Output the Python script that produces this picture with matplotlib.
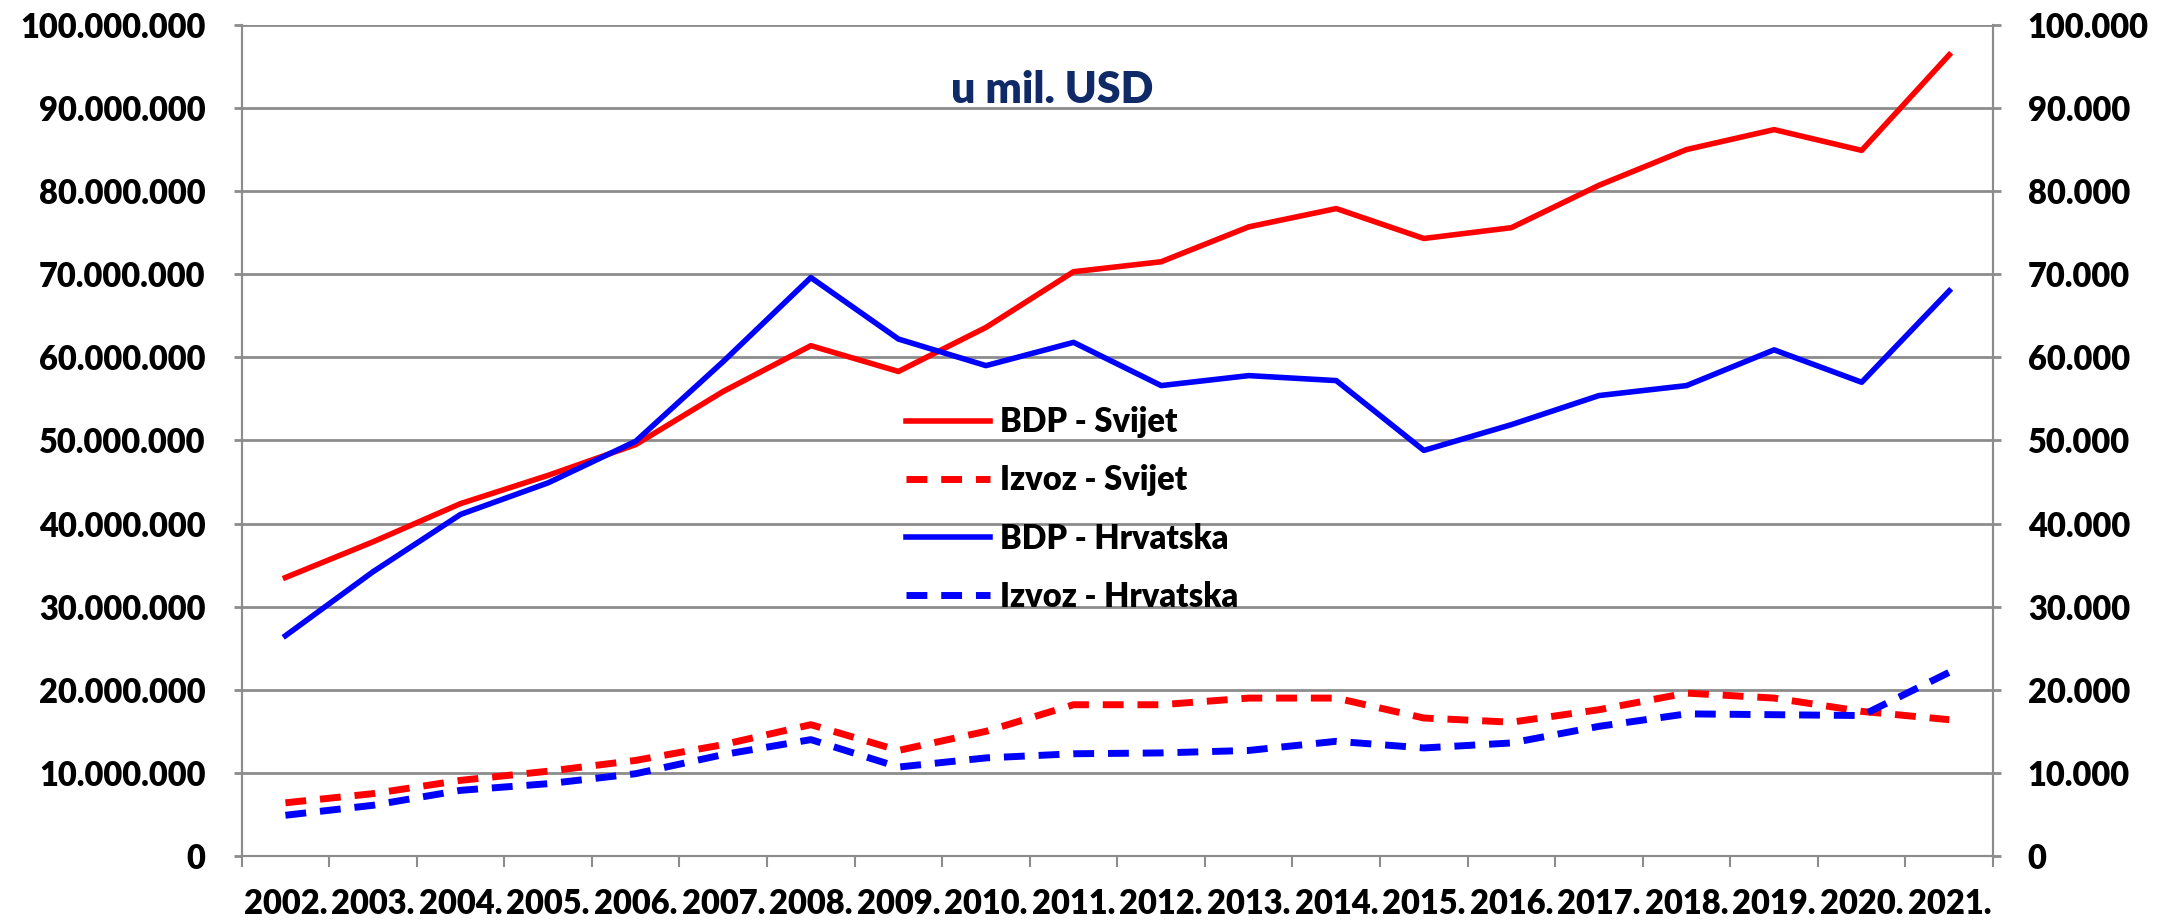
import matplotlib.pyplot as plt
from matplotlib.ticker import FuncFormatter, FixedLocator

# years on the x axis
years = ['2002.', '2003.', '2004.', '2005.', '2006.', '2007.', '2008.', '2009.', '2010.', '2011.',
         '2012.', '2013.', '2014.', '2015.', '2016.', '2017.', '2018.', '2019.', '2020.', '2021.']

# world (left axis, mil. USD)
bdp_svijet = [33.5, 37.8, 42.4, 45.8, 49.5, 55.9, 61.4, 58.3, 63.6, 70.3,
              71.5, 75.7, 77.9, 74.3, 75.6, 80.7, 85.0, 87.4, 84.9, 96.4]
izvoz_svijet = [6.4, 7.5, 9.1, 10.2, 11.5, 13.4, 15.8, 12.7, 15.0, 18.2,
                18.2, 19.0, 19.0, 16.6, 16.1, 17.6, 19.6, 19.0, 17.4, 16.4]
bdp_svijet = [v * 1e6 for v in bdp_svijet]
izvoz_svijet = [v * 1e6 for v in izvoz_svijet]

# Croatia (right axis, mil. USD)
bdp_hr = [26.5, 34.2, 41.1, 44.9, 49.9, 59.5, 69.6, 62.2, 59.0, 61.8,
          56.6, 57.8, 57.2, 48.8, 51.9, 55.4, 56.6, 60.9, 57.0, 68.0]
izvoz_hr = [4.9, 6.1, 7.9, 8.7, 9.9, 12.2, 14.0, 10.7, 11.8, 12.3,
            12.4, 12.7, 13.8, 13.0, 13.6, 15.6, 17.1, 17.0, 16.9, 22.1]
bdp_hr = [v * 1e3 for v in bdp_hr]
izvoz_hr = [v * 1e3 for v in izvoz_hr]

FONT = ['Lato', 'DejaVu Sans']
W = 'heavy'
plt.rcParams['font.family'] = FONT
plt.rcParams['font.weight'] = W
GRID = '#8c8c8c'
FS = 23.5

fig = plt.figure(figsize=(21.77, 9.22), dpi=100)
ax = fig.add_axes([0.111, 0.0716, 0.8045, 0.9014])
ax2 = ax.twinx()

x = list(range(len(years)))
dash = (0, (3, 2))
l1, = ax.plot(x, bdp_svijet, color='#ff0000', lw=4, label='BDP - Svijet', zorder=3)
l2, = ax.plot(x, izvoz_svijet, color='#ff0000', lw=5, ls=dash, label='Izvoz - Svijet', zorder=3)
l3, = ax2.plot(x, bdp_hr, color='#0000ff', lw=4, label='BDP - Hrvatska', zorder=3)
l4, = ax2.plot(x, izvoz_hr, color='#0000ff', lw=5, ls=dash, label='Izvoz - Hrvatska', zorder=3)

ax.set_xlim(-0.5, len(years) - 0.5)
ax.set_ylim(0, 100e6)
ax2.set_ylim(0, 100e3)
ax.set_yticks([i * 10e6 for i in range(11)])
ax2.set_yticks([i * 10e3 for i in range(11)])

fmt = FuncFormatter(lambda v, p: f'{int(round(v)):,}'.replace(',', '.'))
ax.yaxis.set_major_formatter(fmt)
ax2.yaxis.set_major_formatter(fmt)

ax.grid(axis='y', color=GRID, lw=2)
ax.set_axisbelow(True)

# category labels at centres, tick marks at boundaries
ax.set_xticks(x)
ax.set_xticklabels(years)
ax.xaxis.set_minor_locator(FixedLocator([i - 0.5 for i in range(len(years) + 1)]))
ax.tick_params(axis='x', which='major', length=0, pad=23, labelsize=FS)
ax.tick_params(axis='x', which='minor', length=8, width=1.5, color=GRID, direction='out')
ax.tick_params(axis='y', length=6, width=2, color=GRID, pad=20, labelsize=FS)
ax2.tick_params(axis='y', length=6, width=2, color=GRID, pad=19, labelsize=FS)

for a in (ax, ax2):
    a.spines['top'].set_visible(False)
    for s in ('left', 'right', 'bottom'):
        a.spines[s].set_color(GRID)
        a.spines[s].set_linewidth(1.5)
    for lab in a.get_yticklabels() + a.get_xticklabels():
        lab.set_fontweight(W)

ax.text(0.463, 0.922, 'u mil. USD', transform=ax.transAxes, ha='center', va='center',
        fontsize=31, fontweight=W, color='#0f2a66')

leg = ax2.legend(handles=[l1, l2, l3, l4], loc='upper left', bbox_to_anchor=(0.4085, 0.577),
                 bbox_transform=fig.transFigure, frameon=False, fontsize=FS,
                 handlelength=2.6, handletextpad=0.3, labelspacing=0.8, borderpad=0)
for t in leg.get_texts():
    t.set_fontweight(W)

fig.savefig('out.png', dpi=100)
